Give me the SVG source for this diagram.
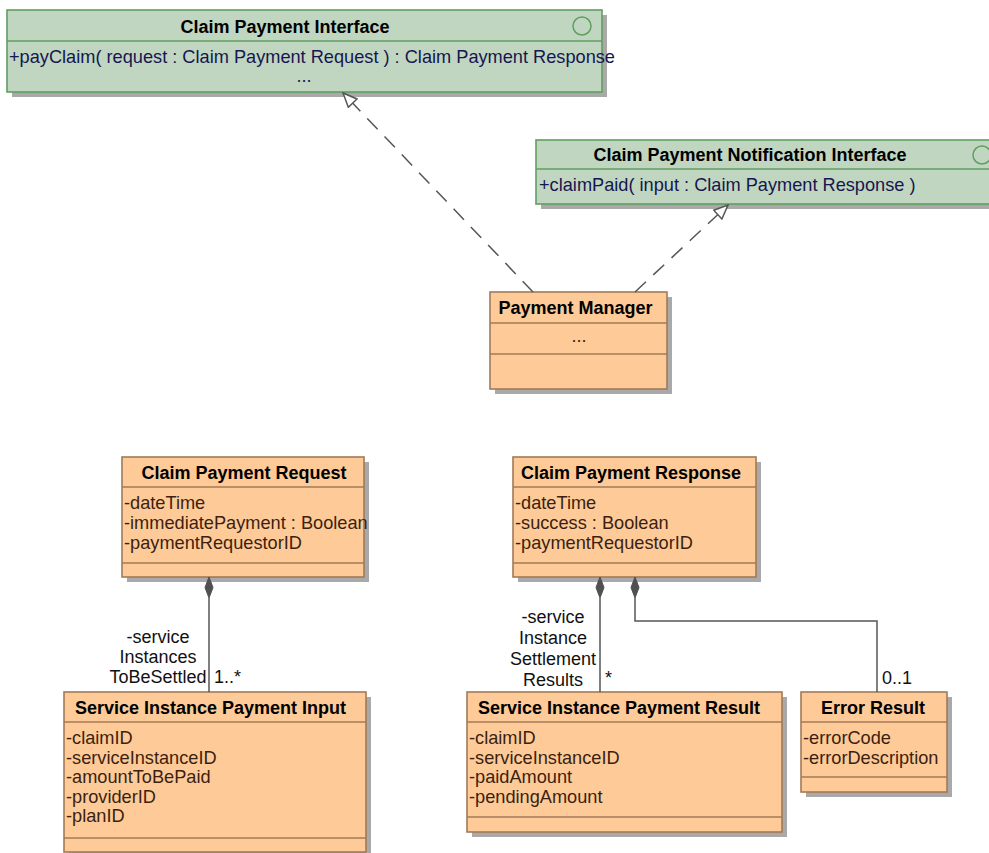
<svg xmlns="http://www.w3.org/2000/svg" width="989" height="853" viewBox="0 0 989 853">
<defs>
<style>
.shadow{fill:#a9a9a9}
.cls{fill:#fecb98;stroke:#a27a58;stroke-width:1.6}
.iface{fill:#c1d6c1;stroke:#5f9f60;stroke-width:1.6}
.div{stroke-width:1.6}
.cdiv{stroke:#a27a58}
.idiv{stroke:#5f9f60}
.title{font-family:"Liberation Sans",Arial,sans-serif;font-weight:bold;font-size:18px;fill:#000;text-anchor:middle}
.attr{font-family:"Liberation Sans",Arial,sans-serif;font-size:18.2px;fill:#3b1f10}
.op{font-family:"Liberation Sans",Arial,sans-serif;font-size:18.2px;fill:#161650}
.dots{text-anchor:middle}
.lbl{font-family:"Liberation Sans",Arial,sans-serif;font-size:18px;fill:#111}
.mid{text-anchor:middle}
.conn{stroke:#555;stroke-width:1.5;fill:none}
.dash{stroke-dasharray:15 10}
.dia{fill:#505050;stroke:#505050;stroke-width:1}
</style>
<marker id="open" viewBox="0 0 16 14" refX="15" refY="7" markerWidth="16" markerHeight="14" markerUnits="userSpaceOnUse" orient="auto">
<path d="M1,1 L15,7 L1,13 Z" fill="#fff" stroke="#555" stroke-width="1.5" stroke-dasharray="none"/>
</marker>
</defs>
<rect width="989" height="853" fill="#fff"/>

<g id="claim-payment-interface">
<rect class="shadow" x="12" y="15" width="595" height="82"/>
<rect class="iface" x="7" y="10" width="595" height="82"/>
<line class="div idiv" x1="7" y1="41" x2="602" y2="41"/>
<circle cx="582" cy="26" r="9" fill="none" stroke="#5f9f60" stroke-width="1.5"/>
<text class="title" x="285" y="33">Claim Payment Interface</text>
<text class="op" x="9" y="63">+payClaim( request : Claim Payment Request ) : Claim Payment Response</text>
<text class="op dots" x="304" y="82">...</text>
</g>

<g id="claim-payment-notification-interface">
<rect class="shadow" x="541" y="145" width="470" height="64"/>
<rect class="iface" x="536" y="140" width="470" height="64"/>
<line class="div idiv" x1="536" y1="169" x2="1006" y2="169"/>
<circle cx="982" cy="155" r="9" fill="none" stroke="#5f9f60" stroke-width="1.5"/>
<text class="title" x="750" y="161">Claim Payment Notification Interface</text>
<text class="op" x="539" y="191">+claimPaid( input : Claim Payment Response )</text>
</g>

<g id="payment-manager">
<rect class="shadow" x="495" y="297" width="177" height="97"/>
<rect class="cls" x="490" y="292" width="177" height="97"/>
<line class="div cdiv" x1="490" y1="323" x2="667" y2="323"/>
<line class="div cdiv" x1="490" y1="354" x2="667" y2="354"/>
<text class="title" x="575.5" y="314">Payment Manager</text>
<text class="attr dots" x="579" y="342">...</text>
</g>

<g id="claim-payment-request">
<rect class="shadow" x="127" y="462" width="242" height="120"/>
<rect class="cls" x="122" y="457" width="242" height="120"/>
<line class="div cdiv" x1="122" y1="487" x2="364" y2="487"/>
<line class="div cdiv" x1="122" y1="563" x2="364" y2="563"/>
<text class="title" x="244" y="479">Claim Payment Request</text>
<text class="attr" x="124" y="509">-dateTime</text>
<text class="attr" x="124" y="529">-immediatePayment : Boolean</text>
<text class="attr" x="124" y="549">-paymentRequestorID</text>
</g>

<g id="claim-payment-response">
<rect class="shadow" x="518" y="462" width="243" height="120"/>
<rect class="cls" x="513" y="457" width="243" height="120"/>
<line class="div cdiv" x1="513" y1="487" x2="756" y2="487"/>
<line class="div cdiv" x1="513" y1="563" x2="756" y2="563"/>
<text class="title" x="631" y="479">Claim Payment Response</text>
<text class="attr" x="515" y="509">-dateTime</text>
<text class="attr" x="515" y="529">-success : Boolean</text>
<text class="attr" x="515" y="549">-paymentRequestorID</text>
</g>

<g id="service-instance-payment-input">
<rect class="shadow" x="69" y="697" width="302" height="161"/>
<rect class="cls" x="64" y="692" width="302" height="160"/>
<line class="div cdiv" x1="64" y1="722" x2="366" y2="722"/>
<line class="div cdiv" x1="64" y1="838" x2="366" y2="838"/>
<text class="title" x="210.5" y="714">Service Instance Payment Input</text>
<text class="attr" x="66" y="744">-claimID</text>
<text class="attr" x="66" y="763.5">-serviceInstanceID</text>
<text class="attr" x="66" y="783">-amountToBePaid</text>
<text class="attr" x="66" y="802.5">-providerID</text>
<text class="attr" x="66" y="822">-planID</text>
</g>

<g id="service-instance-payment-result">
<rect class="shadow" x="472" y="697" width="315" height="140"/>
<rect class="cls" x="467" y="692" width="315" height="140"/>
<line class="div cdiv" x1="467" y1="722" x2="782" y2="722"/>
<line class="div cdiv" x1="467" y1="817" x2="782" y2="817"/>
<text class="title" x="619" y="714">Service Instance Payment Result</text>
<text class="attr" x="469" y="744">-claimID</text>
<text class="attr" x="469" y="763.5">-serviceInstanceID</text>
<text class="attr" x="469" y="783">-paidAmount</text>
<text class="attr" x="469" y="802.5">-pendingAmount</text>
</g>

<g id="error-result">
<rect class="shadow" x="806" y="697" width="146" height="100"/>
<rect class="cls" x="801" y="692" width="146" height="100"/>
<line class="div cdiv" x1="801" y1="722" x2="947" y2="722"/>
<line class="div cdiv" x1="801" y1="777" x2="947" y2="777"/>
<text class="title" x="873" y="714">Error Result</text>
<text class="attr" x="803" y="744">-errorCode</text>
<text class="attr" x="803" y="763.5">-errorDescription</text>
</g>

<g id="connectors">
<line class="conn dash" x1="533" y1="292" x2="343" y2="93" marker-end="url(#open)"/>
<line class="conn dash" x1="635" y1="292" x2="728" y2="205" marker-end="url(#open)"/>

<line class="conn" x1="209" y1="598" x2="209" y2="692"/>
<path class="dia" d="M209,577 L213,587.5 L209,598 L205,587.5 Z"/>
<text class="lbl mid" x="158" y="643">-service</text>
<text class="lbl mid" x="158" y="663">Instances</text>
<text class="lbl mid" x="158" y="683">ToBeSettled</text>
<text class="lbl" x="214" y="683">1..*</text>

<line class="conn" x1="600" y1="598" x2="600" y2="692"/>
<path class="dia" d="M600,577 L604,587.5 L600,598 L596,587.5 Z"/>
<text class="lbl mid" x="553" y="623">-service</text>
<text class="lbl mid" x="553" y="644">Instance</text>
<text class="lbl mid" x="553" y="665">Settlement</text>
<text class="lbl mid" x="553" y="686">Results</text>
<text class="lbl" x="605" y="684">*</text>

<polyline class="conn" points="635,598 635,621 877,621 877,692"/>
<path class="dia" d="M635,577 L639,587.5 L635,598 L631,587.5 Z"/>
<text class="lbl" x="882" y="684">0..1</text>
</g>
</svg>
